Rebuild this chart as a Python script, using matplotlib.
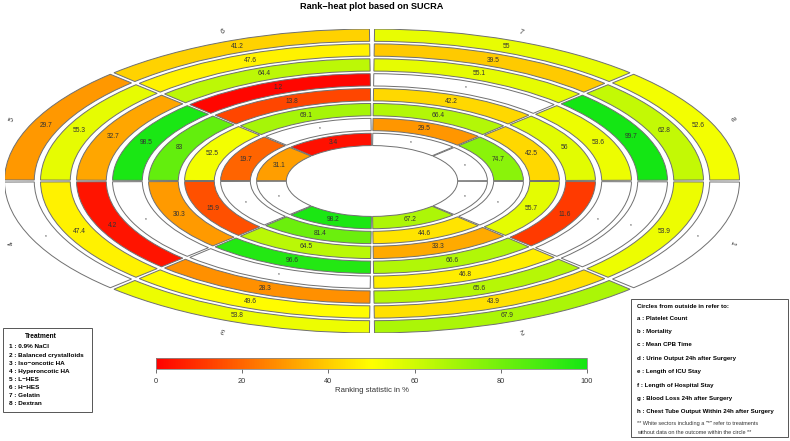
import numpy as np
import matplotlib
matplotlib.use("Agg")
import matplotlib.pyplot as plt
from matplotlib.patches import Wedge, Rectangle
from matplotlib.colors import LinearSegmentedColormap, Normalize
from matplotlib.cm import ScalarMappable

plt.rcParams['font.family'] = ['Liberation Sans', 'DejaVu Sans']

nan = np.nan
title = "Rank\u2212heat plot based on SUCRA"
treatment_ids = ["1", "2", "3", "4", "5", "6", "7", "8"]
treatment_names = ["0.9% NaCl", "Balanced crystalloids", "Iso\u2212oncotic HA",
                   "Hyperoncotic HA", "L\u2212HES", "H\u2212HES", "Gelatin", "Dextran"]
outcome_letters = ["a", "b", "c", "d", "e", "f", "g", "h"]
outcome_names = ["Platelet Count", "Mortality", "Mean CPB Time",
                 "Urine Output 24h after Surgery", "Length of ICU Stay",
                 "Length of Hospital Stay", "Blood Loss 24h after Surgery",
                 "Chest Tube Output Within 24h after Surgery"]

# SUCRA values per outcome (rings, outside -> inside), treatments 1..8
sucra_a = [nan, 67.9, 53.8, nan, 29.7, 41.2, 55.0, 52.6]
sucra_b = [53.9, 43.9, 49.6, 47.4, 55.3, 47.6, 39.5, 62.8]
sucra_c = [nan, 65.6, 28.3, 4.2, 32.7, 64.4, 55.1, 99.7]
sucra_d = [nan, 46.8, nan, nan, 98.5, 1.2, nan, 53.6]
sucra_e = [11.6, 66.6, 96.6, 30.3, 83.0, 13.8, 42.2, 56.0]
sucra_f = [55.7, 33.3, 64.5, 15.9, 52.5, 69.1, 66.4, 42.5]
sucra_g = [nan, 44.6, 81.4, nan, 19.7, nan, 29.5, 74.7]
sucra_h = [nan, 67.2, 98.2, nan, 31.1, 3.4, nan, nan]
rings = [sucra_a, sucra_b, sucra_c, sucra_d, sucra_e, sucra_f, sucra_g, sucra_h]

cbar_ticks = [0, 20, 40, 60, 80, 100]
cbar_label = "Ranking statistic in %"
legend_title = "Treatment"
circles_title = "Circles from outside in refer to:"
footnote = ['** White sectors including a "*" refer to treatments',
            'without data on the outcome within the circle **']

cmap = LinearSegmentedColormap.from_list("rh", ["#FF0000", "#FFFF00", "#14E614"])
norm = Normalize(0, 100)

W, H = 790, 441
fig = plt.figure(figsize=(W / 100, H / 100), dpi=100)
cx, cy, rx, ry = 372, 181, 367.5, 152
ax = fig.add_axes([(cx - rx) / W, (H - (cy + ry)) / H, 2 * rx / W, 2 * ry / H])
ax.set_xlim(-1, 1)
ax.set_ylim(-1, 1)
ax.axis('off')

step, rw, gap = 0.098, 0.081, 0.8
edge = '#707070'
for i, vals in enumerate(rings):
    r_out = 1 - i * step
    r_mid = r_out - rw / 2
    for k, v in enumerate(vals):
        tc = -22.5 - 45 * k
        t1, t2 = tc - 22.5 + gap / 2, tc + 22.5 - gap / 2
        fc = 'white' if np.isnan(v) else cmap(norm(v))
        ax.add_patch(Wedge((0, 0), r_out, t1, t2, width=rw, facecolor=fc,
                           edgecolor=edge, linewidth=0.7))
        x, y = r_mid * np.cos(np.radians(tc)), r_mid * np.sin(np.radians(tc))
        txt = '*' if np.isnan(v) else f"{v:g}"
        ax.text(x, y, txt, ha='center', va='center',
                fontsize=3.5 if np.isnan(v) else 4.8, color='#333333')

for k, lab in enumerate(treatment_ids):
    tc = -22.5 - 45 * k
    ax.text(1.06 * np.cos(np.radians(tc)), 1.06 * np.sin(np.radians(tc)), lab,
            ha='center', va='center', fontsize=5, color='#333333',
            rotation=tc - 90, clip_on=False)

fig.text(372 / W, 1 - 6.5 / H, title, ha='center', va='center',
         fontsize=6.6, fontweight='bold')

# colorbar
cax = fig.add_axes([156 / W, (H - 369) / H, 431 / W, 11 / H])
sm = ScalarMappable(norm=norm, cmap=cmap)
cb = fig.colorbar(sm, cax=cax, orientation='horizontal')
cb.set_ticks(cbar_ticks)
cax.tick_params(labelsize=5.3, length=3, width=0.6, color='#555555',
                labelcolor='#333333', pad=3.5)
cb.outline.set_edgecolor('#888888')
cb.outline.set_linewidth(0.6)
cb.set_label(cbar_label, fontsize=5.6, labelpad=1.5, color='#333333')

# legends
lax = fig.add_axes([0, 0, 1, 1])
lax.set_xlim(0, W)
lax.set_ylim(H, 0)
lax.axis('off')
lax.add_patch(Rectangle((3, 328), 89, 84, facecolor='white', edgecolor='#555555', lw=0.7))
lax.text(41, 337, legend_title, ha='center', va='center', fontsize=4.8, fontweight='bold')
for i, (tid, name) in enumerate(zip(treatment_ids, treatment_names)):
    lax.text(9, 347 + i * 8.05, f"{tid} : {name}", ha='left', va='center',
             fontsize=4.6, fontweight='bold')

lax.add_patch(Rectangle((631, 299), 157, 138, facecolor='white', edgecolor='#555555', lw=0.7))
lax.text(637, 307, circles_title, ha='left', va='center', fontsize=4.4, fontweight='bold')
for i, (let, name) in enumerate(zip(outcome_letters, outcome_names)):
    lax.text(637, 318 + i * 13.4, f"{let} : {name}", ha='left', va='center',
             fontsize=4.4, fontweight='bold')
for j, line in enumerate(footnote):
    lax.text(637, 424 + j * 9, line, ha='left', va='center', fontsize=4.0, color='#333333')

fig.savefig("out.png", dpi=100)
